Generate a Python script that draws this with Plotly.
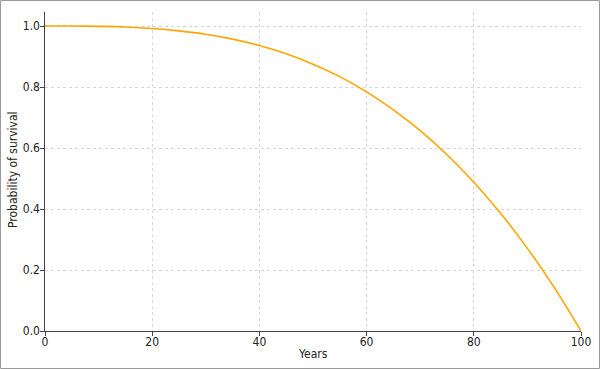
import plotly.graph_objects as go

years = [0, 5, 10, 15, 20, 25, 30, 35, 40, 45, 50, 55, 60, 65, 70, 75, 80, 85, 90, 95, 100]
survival = [1.0, 1.0, 0.999, 0.997, 0.992, 0.984, 0.973, 0.957, 0.936, 0.909, 0.875,
            0.834, 0.784, 0.725, 0.657, 0.578, 0.488, 0.386, 0.271, 0.143, 0.0]
x_ticks = [0, 20, 40, 60, 80, 100]
y_ticks = [0.0, 0.2, 0.4, 0.6, 0.8, 1.0]
y_tick_text = ["0.0", "0.2", "0.4", "0.6", "0.8", "1.0"]

W, H = 600, 369
L, R, T, B = 45, 19, 12, 38
pw, ph = W - L - R, H - T - B
FAM = "DejaVu Sans Condensed, DejaVu Sans"
TICKFONT = dict(family=FAM, size=12, color="#222")
TITLEFONT = dict(family=FAM, size=12, color="#222")

fig = go.Figure()
fig.add_trace(go.Scatter(x=years, y=survival, mode="lines",
                         line=dict(color="#FFA500", width=1.6, shape="spline"),
                         showlegend=False, cliponaxis=False, hoverinfo="skip"))

axis_common = dict(showline=True, linecolor="#444", linewidth=1.2,
                   ticks="outside", ticklen=3.5, tickcolor="#444",
                   showgrid=True, gridcolor="#d6d6d6", griddash="dot", gridwidth=1,
                   zeroline=False, tickfont=TICKFONT, automargin=False, mirror=False)

fig.update_xaxes(range=[0, 100], tickvals=x_ticks, ticktext=[str(v) for v in x_ticks],
                 ticklabelstandoff=-4, **axis_common)
fig.update_yaxes(range=[0, 1.046], tickvals=y_ticks, ticktext=y_tick_text,
                 ticklabelstandoff=-2, **axis_common)

fig.add_annotation(text="Years", xref="paper", yref="paper",
                   x=0.5, y=-(354 - 331) / ph, xanchor="center", yanchor="middle",
                   showarrow=False, font=TITLEFONT)
fig.add_annotation(text="Probability of survival", xref="paper", yref="paper",
                   x=-(L - 13) / pw, y=(331 - 170) / ph, xanchor="center", yanchor="middle",
                   textangle=-90, showarrow=False, font=TITLEFONT)

fig.add_shape(type="rect", xref="paper", yref="paper",
              x0=-(L - 0.5) / pw, x1=1 + (R - 0.5) / pw,
              y0=-(B - 0.5) / ph, y1=1 + (T - 0.5) / ph,
              line=dict(color="#9a9a9a", width=1), fillcolor="rgba(0,0,0,0)", layer="below")

fig.update_layout(width=W, height=H, margin=dict(l=L, r=R, t=T, b=B),
                  paper_bgcolor="white", plot_bgcolor="white", font=TICKFONT)

fig.write_html("out.html", config={"displayModeBar": False},
               post_script="document.body.style.margin='0';document.body.style.overflow='hidden';")
